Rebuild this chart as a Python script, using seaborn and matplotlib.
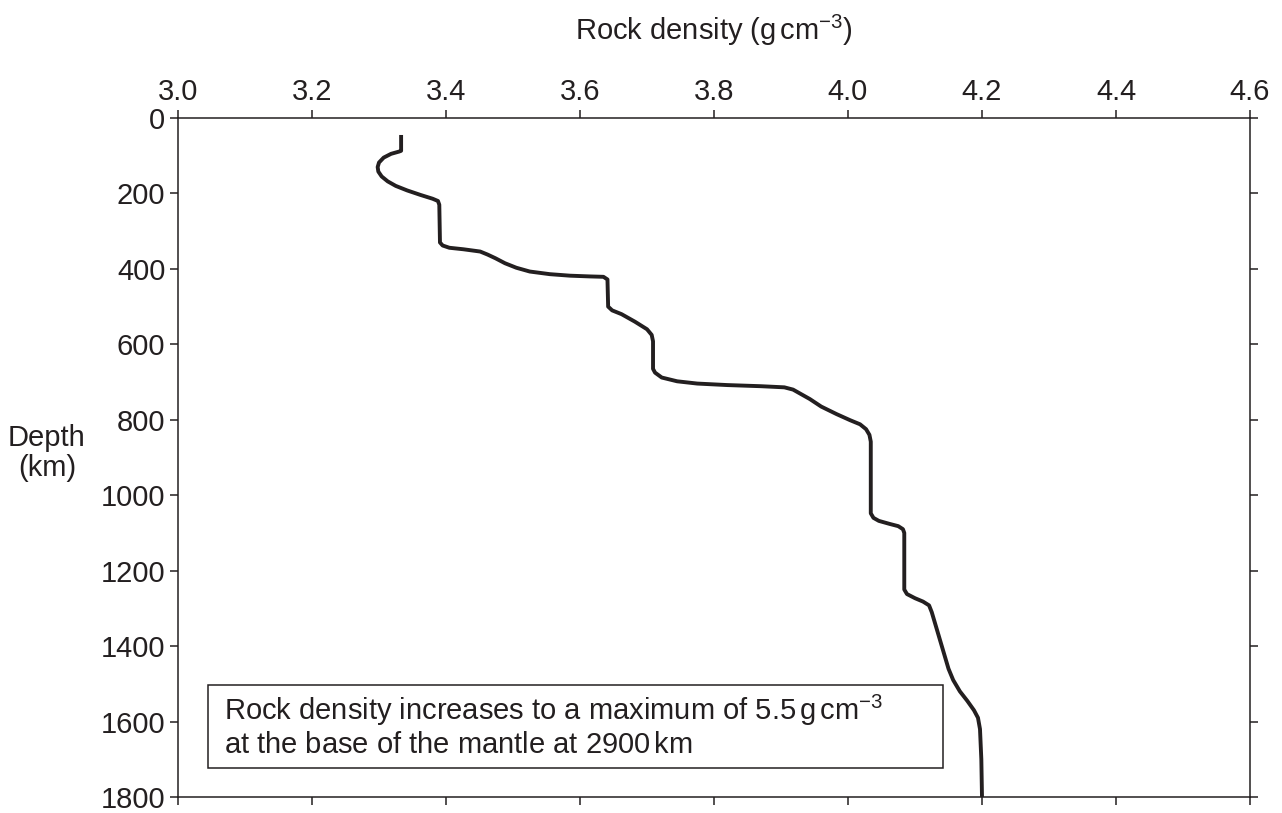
import matplotlib
matplotlib.use("Agg")
import matplotlib.pyplot as plt
from matplotlib.patches import Rectangle
import seaborn as sns
import pandas as pd

# ---- data ----
depth_km = [45, 87, 89, 95, 105, 118, 130, 142, 155, 168, 180, 192, 204, 214, 220, 230,
            330, 338, 344, 348, 354, 362, 372, 385, 397, 407, 414, 418, 420, 421, 428,
            500, 510, 520, 540, 560, 575, 592,
            665, 675, 688, 698, 704, 708, 711, 714, 720, 730, 745, 765, 785, 801, 812, 825, 840, 858,
            1048, 1060, 1068, 1076, 1082, 1090, 1100,
            1250, 1262, 1273, 1282, 1292, 1310, 1340, 1370, 1400, 1430, 1460, 1490, 1520, 1545,
            1570, 1590, 1620, 1700, 1800]
density = [3.333, 3.333, 3.330, 3.318, 3.307, 3.300, 3.298, 3.299, 3.304, 3.313, 3.325, 3.342,
           3.362, 3.380, 3.388, 3.390,
           3.391, 3.395, 3.405, 3.426, 3.451, 3.462, 3.474, 3.488, 3.505, 3.525, 3.555, 3.585,
           3.615, 3.635, 3.641,
           3.642, 3.648, 3.662, 3.682, 3.700, 3.707, 3.709,
           3.709, 3.712, 3.722, 3.745, 3.775, 3.820, 3.870, 3.905, 3.918, 3.928, 3.943, 3.960,
           3.983, 4.003, 4.018, 4.027, 4.032, 4.034,
           4.034, 4.038, 4.046, 4.062, 4.075, 4.082, 4.084,
           4.084, 4.088, 4.100, 4.112, 4.121, 4.125, 4.130, 4.135, 4.140, 4.145, 4.150, 4.157,
           4.167, 4.178, 4.188, 4.194, 4.197, 4.199, 4.200]

x_ticks = [3.0, 3.2, 3.4, 3.6, 3.8, 4.0, 4.2, 4.4, 4.6]
x_tick_labels = ["3.0", "3.2", "3.4", "3.6", "3.8", "4.0", "4.2", "4.4", "4.6"]
y_ticks = [0, 200, 400, 600, 800, 1000, 1200, 1400, 1600, 1800]
y_tick_labels = [str(v) for v in y_ticks]

x_title = r"Rock density (g$\,$cm$^{-3}$)"
y_title = "Depth\n(km)"
note_line1 = r"Rock density increases to a maximum of 5.5$\,$g$\,$cm$^{-3}$"
note_line2 = r"at the base of the mantle at 2900$\,$km"

# ---- style ----
sns.set_style("ticks")
plt.rcParams["font.family"] = ["Liberation Sans", "DejaVu Sans"]
plt.rcParams["mathtext.fontset"] = "custom"
plt.rcParams["mathtext.rm"] = "Liberation Sans"
plt.rcParams["mathtext.it"] = "Liberation Sans:italic"
plt.rcParams["mathtext.bf"] = "Liberation Sans:bold"

ink = "#231f20"
fs = 21

df = pd.DataFrame({"density": density, "depth": depth_km})

fig = plt.figure(figsize=(12.82, 8.13), dpi=100)
ax = fig.add_axes([178 / 1282, 1 - 797 / 813, (1250 - 178) / 1282, (797 - 118) / 813])

sns.lineplot(data=df, x="density", y="depth", sort=False, estimator=None,
             color=ink, linewidth=2.8, ax=ax)
for ln in ax.get_lines():
    ln.set_solid_joinstyle("round")
    ln.set_solid_capstyle("butt")

ax.set_xlim(3.0, 4.6)
ax.set_ylim(1800, 0)
ax.set_xticks(x_ticks)
ax.set_xticklabels(x_tick_labels)
ax.set_yticks(y_ticks)
ax.set_yticklabels(y_tick_labels)
ax.set_xlabel("")
ax.set_ylabel("")

for side in ["top", "bottom", "left", "right"]:
    ax.spines[side].set_visible(True)
    ax.spines[side].set_color(ink)
    ax.spines[side].set_linewidth(1.1)

ax.tick_params(axis="x", top=True, bottom=True, labeltop=True, labelbottom=False,
               direction="out", length=6, width=1.1, color=ink, labelsize=fs,
               labelcolor=ink, pad=3)
ax.tick_params(axis="y", left=True, right=True, labelleft=True, labelright=False,
               direction="out", length=6, width=1.1, color=ink, labelsize=fs,
               labelcolor=ink, pad=3)

fig.text(714 / 1282, 1 - 30 / 813, x_title, ha="center", va="center",
         fontsize=fs, color=ink)
fig.text(47 / 1282, 1 - 453 / 813, y_title, ha="center", va="center",
         fontsize=fs, color=ink, multialignment="center", linespacing=1.1)

# annotation box
ax.add_patch(Rectangle((30 / 1072, 1 - 650 / 679), (943 - 208) / 1072, (768 - 685) / 679,
                       transform=ax.transAxes, fill=False, edgecolor=ink, linewidth=1.1))
ax.text(46 / 1072, 1 - 602 / 679, note_line1, transform=ax.transAxes, ha="left",
        va="baseline", fontsize=fs, color=ink)
ax.text(46 / 1072, 1 - 635 / 679, note_line2, transform=ax.transAxes, ha="left",
        va="baseline", fontsize=fs, color=ink)

fig.savefig("out.png", dpi=100, facecolor="white")
